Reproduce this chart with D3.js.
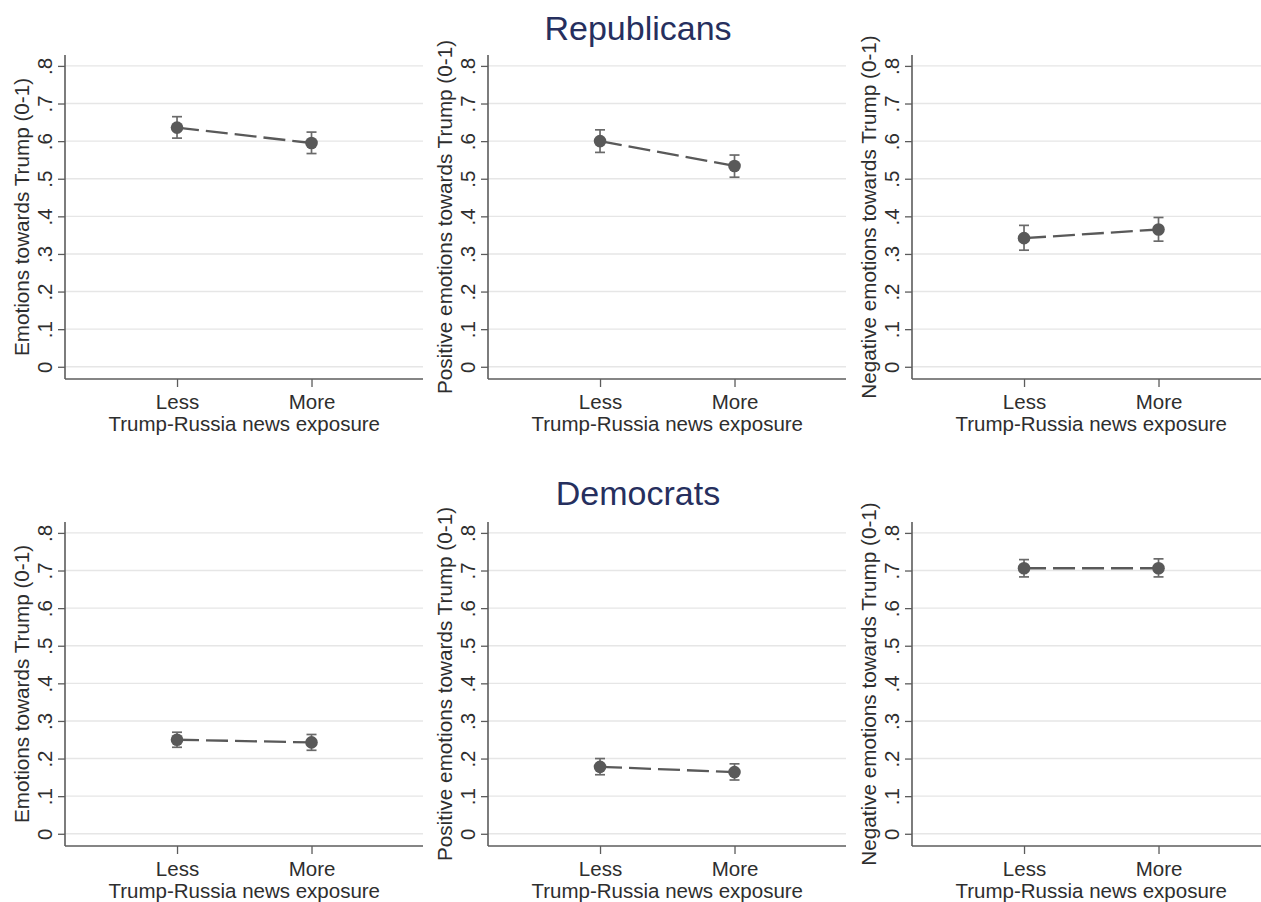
<!DOCTYPE html>
<html>
<head>
<meta charset="utf-8">
<script src="https://cdn.jsdelivr.net/npm/d3@7"></script>
<style>
  html, body { margin: 0; padding: 0; background: #fff; }
  svg { display: block; font-family: "Liberation Sans", Arial, Helvetica, sans-serif; }
</style>
</head>
<body>
<svg id="chart" width="1261" height="902"></svg>
<script>
// ---------------- data ----------------
const exposure = ["Less", "More"];
const exposurePos = [1, 2];
const xTitle = "Trump-Russia news exposure";
const yTickValues = [0, 0.1, 0.2, 0.3, 0.4, 0.5, 0.6, 0.7, 0.8];
const yTickLabels = ["0", ".1", ".2", ".3", ".4", ".5", ".6", ".7", ".8"];
const groupTitles = ["Republicans", "Democrats"];
const yTitles = [
  "Emotions towards Trump (0-1)",
  "Positive emotions towards Trump (0-1)",
  "Negative emotions towards Trump (0-1)"
];

// Republicans
const repEmotionsMean = [0.636, 0.595];
const repEmotionsLo   = [0.608, 0.567];
const repEmotionsHi   = [0.665, 0.624];
const repPositiveMean = [0.600, 0.534];
const repPositiveLo   = [0.570, 0.504];
const repPositiveHi   = [0.630, 0.563];
const repNegativeMean = [0.342, 0.365];
const repNegativeLo   = [0.310, 0.334];
const repNegativeHi   = [0.376, 0.397];

// Democrats
const demEmotionsMean = [0.250, 0.243];
const demEmotionsLo   = [0.230, 0.222];
const demEmotionsHi   = [0.270, 0.264];
const demPositiveMean = [0.178, 0.164];
const demPositiveLo   = [0.157, 0.143];
const demPositiveHi   = [0.200, 0.186];
const demNegativeMean = [0.706, 0.706];
const demNegativeLo   = [0.683, 0.683];
const demNegativeHi   = [0.729, 0.731];

const panels = [
  {row: 0, col: 0, mean: repEmotionsMean, lo: repEmotionsLo, hi: repEmotionsHi},
  {row: 0, col: 1, mean: repPositiveMean, lo: repPositiveLo, hi: repPositiveHi},
  {row: 0, col: 2, mean: repNegativeMean, lo: repNegativeLo, hi: repNegativeHi},
  {row: 1, col: 0, mean: demEmotionsMean, lo: demEmotionsLo, hi: demEmotionsHi},
  {row: 1, col: 1, mean: demPositiveMean, lo: demPositiveLo, hi: demPositiveHi},
  {row: 1, col: 2, mean: demNegativeMean, lo: demNegativeLo, hi: demNegativeHi}
];

// ---------------- layout ----------------
const colLeft = [65, 488, 912];
const plotW = 358;
const rowTop = [55, 522];
const rowBottom = [379, 846];
const titleBaseline = [40, 505];
const titleX = 638;

const textColor = "#2e2e2e";
const axisColor = "#5c5c5c";
const gridColor = "#e6e6e6";
const markColor = "#595959";

const svg = d3.select("#chart");

groupTitles.forEach((t, i) => {
  svg.append("text")
    .attr("x", titleX).attr("y", titleBaseline[i])
    .attr("text-anchor", "middle")
    .attr("font-size", 34)
    .attr("fill", "#262f5e")
    .text(t);
});

panels.forEach(p => {
  const left = colLeft[p.col];
  const top = rowTop[p.row];
  const bottom = rowBottom[p.row];
  const x = d3.scaleLinear().domain([0.167, 2.829]).range([left, left + plotW]);
  const y = d3.scaleLinear().domain([-0.0325, 0.829]).range([bottom, top]);

  const g = svg.append("g");

  // gridlines
  g.append("g").selectAll("line").data(yTickValues).join("line")
    .attr("x1", left).attr("x2", left + plotW)
    .attr("y1", d => y(d)).attr("y2", d => y(d))
    .attr("stroke", gridColor).attr("stroke-width", 1.4);

  // y axis
  const yAxis = d3.axisLeft(y).tickValues(yTickValues)
    .tickFormat((d, i) => yTickLabels[i]).tickSize(7).tickPadding(0);
  const ya = g.append("g").attr("transform", `translate(${left},0)`).call(yAxis);
  ya.select(".domain").remove();
  ya.selectAll(".tick line").attr("stroke", axisColor).attr("stroke-width", 1.3);
  ya.selectAll(".tick text")
    .attr("x", null).attr("dy", null)
    .attr("transform", "translate(-13,0) rotate(-90)")
    .attr("text-anchor", "middle")
    .attr("font-size", 20.5).attr("fill", textColor)
    .attr("font-family", "Liberation Sans, Arial, sans-serif");

  // x axis
  const xAxis = d3.axisBottom(x).tickValues(exposurePos)
    .tickFormat((d, i) => exposure[i]).tickSize(8).tickPadding(0);
  const xa = g.append("g").attr("transform", `translate(0,${bottom})`).call(xAxis);
  xa.select(".domain").remove();
  xa.selectAll(".tick line").attr("stroke", axisColor).attr("stroke-width", 1.3);
  xa.selectAll(".tick text")
    .attr("y", 30).attr("dy", null)
    .attr("font-size", 20.5).attr("fill", textColor)
    .attr("font-family", "Liberation Sans, Arial, sans-serif");

  // axis lines
  g.append("line").attr("x1", left).attr("x2", left)
    .attr("y1", top).attr("y2", bottom)
    .attr("stroke", axisColor).attr("stroke-width", 1.6);
  g.append("line").attr("x1", left).attr("x2", left + plotW)
    .attr("y1", bottom).attr("y2", bottom)
    .attr("stroke", axisColor).attr("stroke-width", 1.6);

  // axis titles
  g.append("text")
    .attr("transform", `translate(${left - 36},${(top + bottom) / 2}) rotate(-90)`)
    .attr("text-anchor", "middle").attr("font-size", 20.7).attr("fill", textColor)
    .text(yTitles[p.col]);
  g.append("text")
    .attr("x", x(1.5)).attr("y", bottom + 52)
    .attr("text-anchor", "middle").attr("font-size", 20.5).attr("fill", textColor)
    .text(xTitle);

  // connecting dashed line
  const pts = exposurePos.map((d, i) => [x(d), y(p.mean[i])]);
  g.append("path")
    .attr("d", d3.line()(pts))
    .attr("fill", "none").attr("stroke", markColor)
    .attr("stroke-width", 2.3).attr("stroke-dasharray", "22,7");

  // error bars
  exposurePos.forEach((d, i) => {
    const cx = x(d);
    g.append("line").attr("x1", cx).attr("x2", cx)
      .attr("y1", y(p.lo[i])).attr("y2", y(p.hi[i]))
      .attr("stroke", "#6a6a6a").attr("stroke-width", 1.7);
    [p.lo[i], p.hi[i]].forEach(v => {
      g.append("line").attr("x1", cx - 5).attr("x2", cx + 5)
        .attr("y1", y(v)).attr("y2", y(v))
        .attr("stroke", "#6a6a6a").attr("stroke-width", 1.7);
    });
  });

  // markers
  g.append("g").selectAll("circle").data(exposurePos).join("circle")
    .attr("cx", d => x(d)).attr("cy", (d, i) => y(p.mean[i]))
    .attr("r", 6.3).attr("fill", markColor);
});
</script>
</body>
</html>
